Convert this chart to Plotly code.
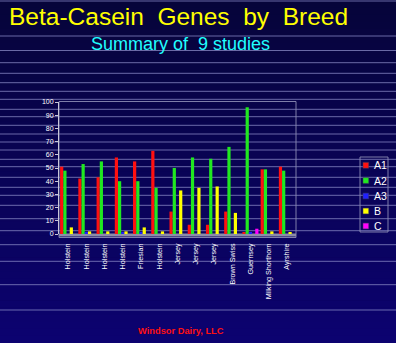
import plotly.graph_objects as go

breeds = ["Holstein", "Holstein", "Holstein", "Holstein", "Friesian", "Holstein",
          "Jersey", "Jersey", "Jersey", "Brown Swiss", "Guernsey",
          "Milking Shorthorn", "Ayrshire"]
series_names = ["A1", "A2", "A3", "B", "C"]
a1 = [51, 42, 43, 58, 55, 63, 17, 7, 7, 17, 1, 49, 51]
a2 = [48, 53, 55, 40, 40, 35, 50, 58, 57, 66, 96, 49, 48]
a3 = [0, 1, 0, 1, 1, 0, 0, 0, 0, 0, 1, 0, 0]
b = [5, 2, 2, 2, 5, 2, 33, 35, 36, 16, 0, 2, 1]
c = [0, 0, 0, 0, 0, 0, 0, 0, 0, 0, 4, 0, 0]
y_ticks = list(range(0, 101, 10))

series_values = [a1, a2, a3, b, c]
colors = ["#ff1010", "#20e820", "#2020ff", "#ffff00", "#ff00ff"]

W, H = 396, 343
L, R, T, B = 59, 296, 102, 234


def px(x):
    return (x - L) / (R - L)


def py(y):
    return (B - y) / (B - T)


shapes = []
# background gradient
n = 48
top = (6, 4, 58)
bot = (12, 2, 112)
for i in range(n):
    y0 = H * i / n
    y1 = H * (i + 1) / n + 0.5
    f = i / (n - 1)
    col = "rgb(%d,%d,%d)" % tuple(round(top[k] + (bot[k] - top[k]) * f) for k in range(3))
    shapes.append(dict(type="rect", xref="paper", yref="paper", layer="below",
                       x0=px(0), x1=px(W), y0=py(y1), y1=py(y0),
                       fillcolor=col, line=dict(width=0)))
# decorative slide lines
for yy in [1, 36, 50.5, 62.7, 73.3, 82.7, 91.3, 99.3, 109.3, 116.7, 125.3, 134,
           142, 150, 159.3, 166.7, 177.3, 187.3, 195.3, 205.3, 218.7, 230.7,
           244.7, 261.3, 284.7, 310]:
    shapes.append(dict(type="line", xref="paper", yref="paper", layer="below",
                       x0=px(0), x1=px(W), y0=py(yy), y1=py(yy),
                       line=dict(color="rgba(140,140,200,0.75)", width=1)))
# plot frame
shapes.append(dict(type="rect", xref="paper", yref="paper", layer="below",
                   x0=0, x1=1, y0=py(237.5), y1=py(101.5),
                   line=dict(color="rgba(140,140,180,0.9)", width=1)))
# floor
shapes.append(dict(type="rect", xref="paper", yref="paper", layer="below",
                   x0=0, x1=1, y0=py(236.5), y1=py(233.5),
                   fillcolor="#8c8ca8", line=dict(width=0)))
# legend box
shapes.append(dict(type="rect", xref="paper", yref="paper",
                   x0=px(360), x1=px(388), y0=py(232), y1=py(157),
                   line=dict(color="rgba(140,140,180,0.9)", width=1)))

annotations = [
    dict(text="Beta-Casein\u00a0\u00a0Genes\u00a0\u00a0by\u00a0\u00a0Breed", xref="paper", yref="paper",
         x=px(178), y=py(17), xanchor="center", yanchor="middle", showarrow=False,
         font=dict(family="Liberation Sans, Arial", size=24.5, color="#ffff00")),
    dict(text="Summary of\u00a0\u00a09 studies", xref="paper", yref="paper",
         x=px(180), y=py(43.5), xanchor="center", yanchor="middle", showarrow=False,
         font=dict(family="Liberation Sans, Arial", size=18, color="#20ffff")),
    dict(text="<b>Windsor Dairy, LLC</b>", xref="paper", yref="paper",
         x=px(181), y=py(330.5), xanchor="center", yanchor="middle", showarrow=False,
         font=dict(family="Liberation Sans, Arial", size=9.3, color="#ff1010")),
]

# manual legend
leg_y = [165.3, 180.5, 196, 211, 226]
for name, col, yy in zip(series_names, colors, leg_y):
    shapes.append(dict(type="rect", xref="paper", yref="paper",
                       x0=px(363), x1=px(368.7), y0=py(yy + 2.9), y1=py(yy - 2.9),
                       fillcolor=col, line=dict(color="rgba(60,60,90,1)", width=0.5)))
    annotations.append(dict(text=name, xref="paper", yref="paper",
                            x=px(371.5), y=py(yy), xanchor="left", yanchor="middle",
                            showarrow=False,
                            font=dict(family="Liberation Sans, Arial", size=10.5, color="white")))

fig = go.Figure()
xs = list(range(len(breeds)))
for name, vals, col in zip(series_names, series_values, colors):
    fig.add_trace(go.Bar(x=xs, y=vals, name=name, marker=dict(color=col, line=dict(width=0)),
                         showlegend=False))

fig.update_layout(
    width=W, height=H,
    margin=dict(l=L, r=W - R, t=T, b=H - B, pad=0),
    paper_bgcolor="#08043e", plot_bgcolor="rgba(0,0,0,0)",
    barmode="group", bargap=0.12, bargroupgap=0,
    showlegend=False,
    shapes=shapes, annotations=annotations,
    xaxis=dict(range=[-0.5, len(breeds) - 0.5], tickvals=xs, ticktext=breeds,
               tickangle=-90, showgrid=False, zeroline=False, showline=False,
               ticks="", tickfont=dict(family="Liberation Sans, Arial", size=7.2, color="white"),
               ticklabelstandoff=7),
    yaxis=dict(range=[0, 100], tickvals=y_ticks, showgrid=False, zeroline=False,
               showline=True, linecolor="#c8c8d8", linewidth=1,
               ticks="outside", ticklen=3, tickcolor="#c8c8d8",
               tickfont=dict(family="Liberation Sans, Arial", size=7, color="white")),
)

fig.write_html("out.html")
